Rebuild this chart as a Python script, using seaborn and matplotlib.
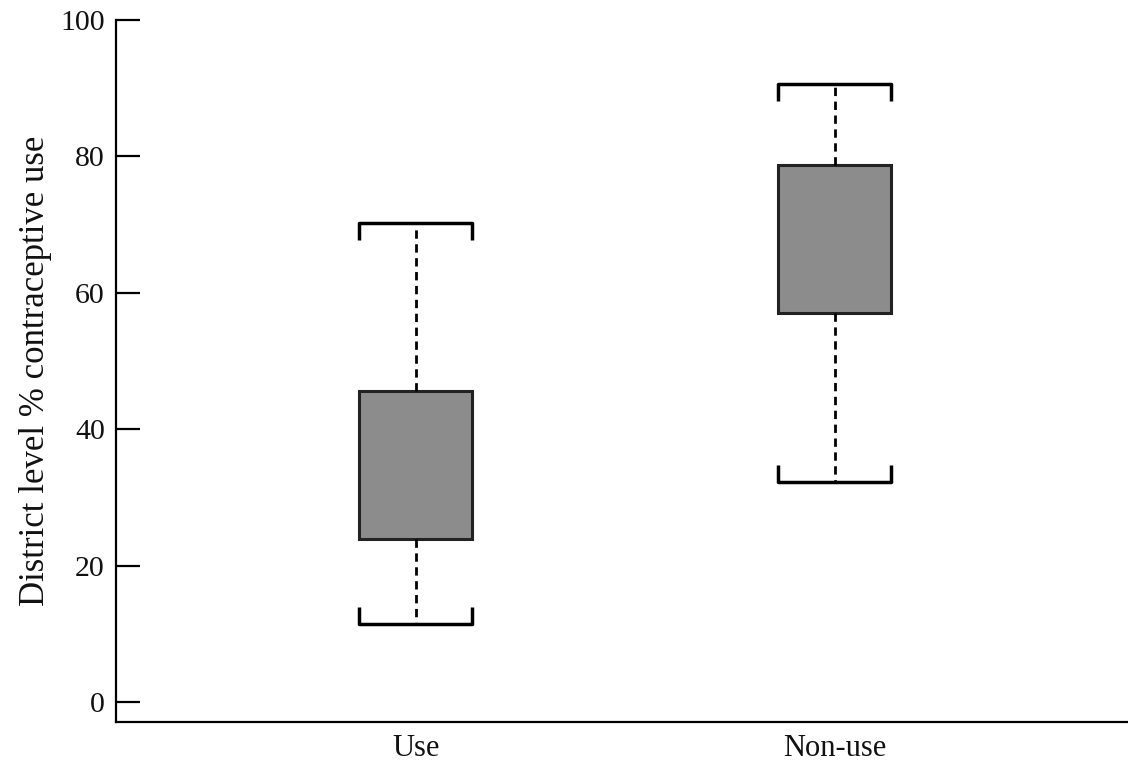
import numpy as np
import pandas as pd
import matplotlib
matplotlib.use("Agg")
import matplotlib.pyplot as plt
import seaborn as sns

# ---- data ----
categories = ["Use", "Non-use"]
whisker_low = [11.4, 32.2]
q1 = [23.9, 57.0]
q3 = [45.6, 78.7]
whisker_high = [70.2, 90.6]
yticks = [0, 20, 40, 60, 80, 100]
ylabel = "District level % contraceptive use"

# Build a tiny table whose quartiles/extremes reproduce the summary stats
rows = []
for c, lo, a, b, hi in zip(categories, whisker_low, q1, q3, whisker_high):
    for v in (lo, a, a, b, b, hi):
        rows.append({"group": c, "value": v})
df = pd.DataFrame(rows)

sns.set_theme(style="white")
plt.rcParams["font.family"] = ["Liberation Serif", "DejaVu Serif"]

fig = plt.figure(figsize=(11.28, 7.70), dpi=100)
ax = fig.add_axes([116 / 1128, 48 / 770, 1 - 116 / 1128, (722 - 20) / 770])

box_w = 0.27
sns.boxplot(
    data=df, x="group", y="value", order=categories, ax=ax,
    whis=(0, 100), width=box_w, color="#8c8c8c", saturation=1,
    linewidth=2.2, linecolor="#1a1a1a", showfliers=False,
    boxprops=dict(facecolor="#8c8c8c", edgecolor="#222222", linewidth=2.2),
    whiskerprops=dict(color="black", linewidth=2.0, linestyle=(0, (3.0, 2.0))),
    capprops=dict(color="black", linewidth=2.5),
    medianprops=dict(linewidth=0, alpha=0),
    capwidths=box_w,
)

# little end-ticks on the caps (bracket look)
tick_h = 2.5
for i, (lo, hi) in enumerate(zip(whisker_low, whisker_high)):
    for xx in (i - box_w / 2, i + box_w / 2):
        ax.vlines(xx, hi - tick_h, hi, color="black", linewidth=2.5)
        ax.vlines(xx, lo, lo + tick_h, color="black", linewidth=2.5)

ax.set_xlim(-0.715, 1.70)
ax.set_ylim(-2.93, 100)
ax.set_yticks(yticks)
ax.set_yticklabels([str(t) for t in yticks])
ax.set_xlabel("")
ax.set_ylabel(ylabel, fontsize=25, labelpad=6)

for s in ("top", "right"):
    ax.spines[s].set_visible(False)
for s in ("left", "bottom"):
    ax.spines[s].set_color("black")
    ax.spines[s].set_linewidth(1.6)

ax.tick_params(axis="y", direction="in", length=17, width=1.6, color="black",
               labelsize=21.5, pad=8, left=True, labelcolor="#111111")
ax.tick_params(axis="x", length=0, labelsize=22, pad=9, labelcolor="#111111")
ax.yaxis.label.set_color("#111111")

fig.savefig("out.png", dpi=100)
